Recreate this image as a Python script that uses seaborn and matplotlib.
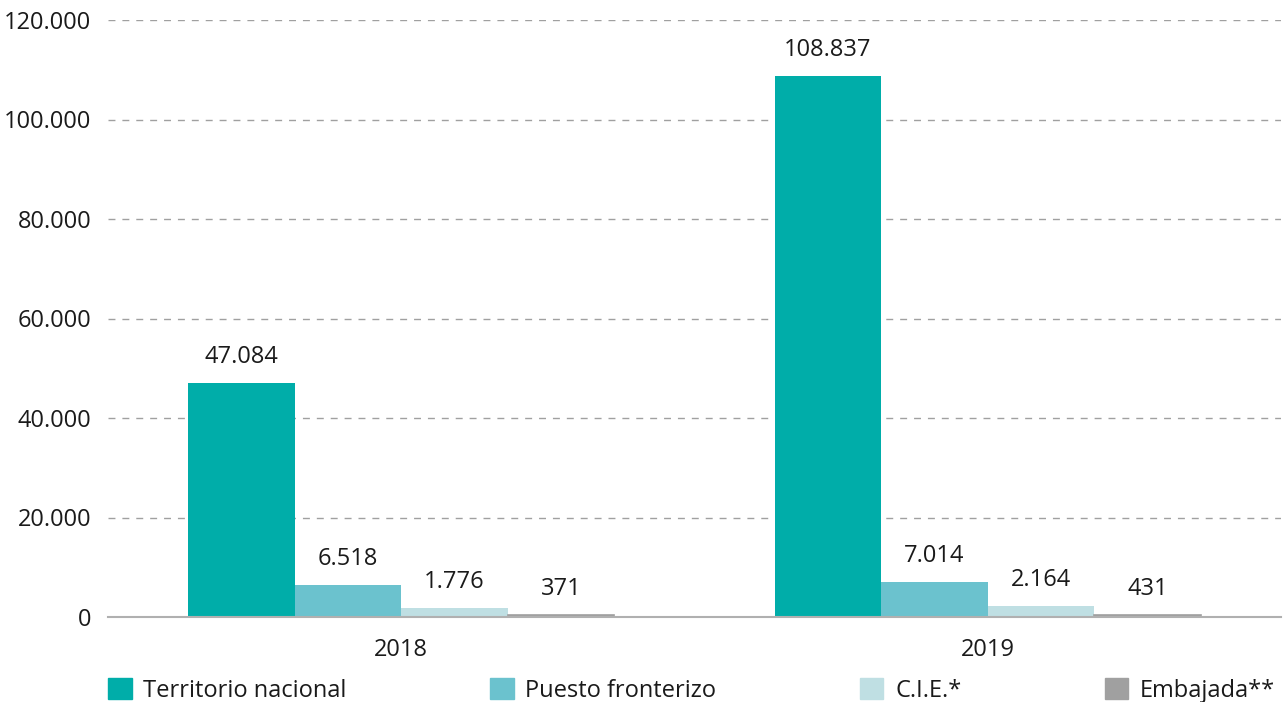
import pandas as pd
import matplotlib.pyplot as plt
import seaborn as sns

# Data
years = ['2018', '2019']
categories = ['Territorio nacional', 'Puesto fronterizo', 'C.I.E.*', 'Embajada**']
territorio = [47084, 108837]
puesto = [6518, 7014]
cie = [1776, 2164]
embajada = [371, 431]
colors = ['#00ADA9', '#6BC2CE', '#BFDFE3', '#A0A0A0']

rows = []
for cat, vals in zip(categories, [territorio, puesto, cie, embajada]):
    for year, v in zip(years, vals):
        rows.append({'Año': year, 'Tipo': cat, 'Valor': v})
df = pd.DataFrame(rows)

sns.set_theme(style='white')
plt.rcParams['font.family'] = ['Open Sans', 'DejaVu Sans']

fig = plt.figure(figsize=(12.84, 7.02), dpi=100)
ax = fig.add_axes([108 / 1284, 1 - 617 / 702, 1173 / 1284, 597 / 702])

sns.barplot(data=df, x='Año', y='Valor', hue='Tipo', hue_order=categories,
            order=years, palette=colors, width=0.727, saturation=1,
            linewidth=0, ax=ax)

# give the tiny gray bars an outline so they stay visible
for bar in ax.containers[3]:
    bar.set_edgecolor(colors[3])
    bar.set_linewidth(1.2)


def fmt_es(v):
    return f'{int(round(v)):,}'.replace(',', '.')


for container, vals in zip(ax.containers, [territorio, puesto, cie, embajada]):
    ax.bar_label(container, labels=[fmt_es(v) for v in vals],
                 padding=10, fontsize=17, color='#1a1a1a')

ax.set_ylim(0, 120000)
ax.set_xlim(-0.5, 1.5)
ax.set_yticks(range(0, 120001, 20000))
ax.set_yticklabels([fmt_es(t) for t in range(0, 120001, 20000)])
ax.yaxis.grid(True, linestyle=(0, (5, 5)), color='#a0a0a0', linewidth=1)
ax.set_axisbelow(True)
ax.tick_params(axis='both', length=0, labelsize=17, colors='#1a1a1a')
ax.tick_params(axis='y', pad=12)
ax.tick_params(axis='x', pad=15)
ax.set_xlabel('')
ax.set_ylabel('')
for side in ['top', 'right', 'left']:
    ax.spines[side].set_visible(False)
ax.spines['bottom'].set_color('#b0b0b0')
ax.spines['bottom'].set_linewidth(1.5)

ax.legend_.remove()
handles = [plt.Rectangle((0, 0), 1, 1, color=c) for c in colors]
ax.legend(handles, categories, ncol=4, mode='expand', loc='upper left',
          bbox_to_anchor=(0, -0.102, 0.995, 0.0), borderaxespad=0, borderpad=0,
          frameon=False, fontsize=17, handlelength=1.0, handleheight=1.0,
          handletextpad=0.5, labelcolor='#1a1a1a')

fig.savefig('out.png', dpi=100)
